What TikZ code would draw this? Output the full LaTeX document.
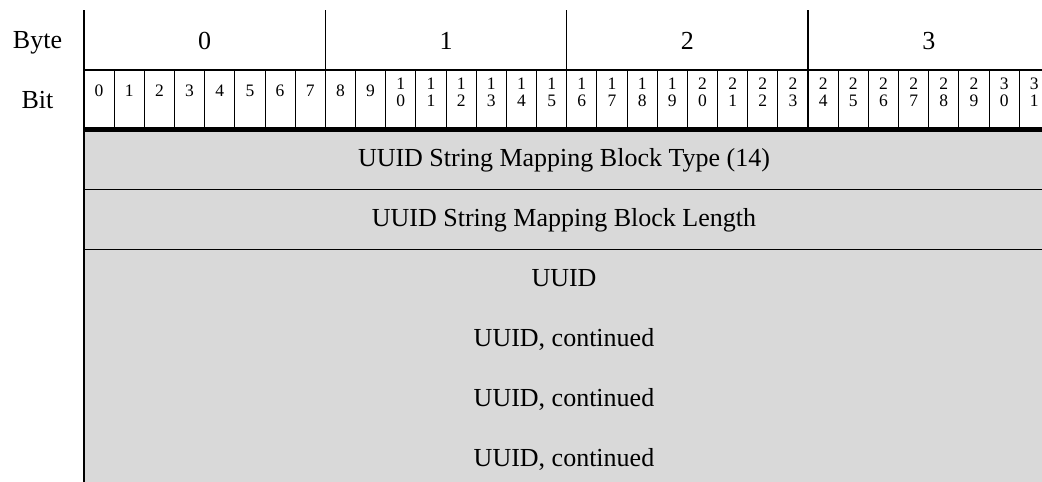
\documentclass[tikz,border=0pt]{standalone}
\usepackage{fontspec}
\setmainfont{Liberation Serif}
\usetikzlibrary{positioning}
\definecolor{fieldgrey}{RGB}{217,217,217}
\tikzstyle{rowlabel} = [draw=none, font=\fontsize{26}{30}\selectfont, text height=18pt, text depth=6pt, text centered]
\tikzstyle{bytenum} = [draw=none, font=\fontsize{26}{30}\selectfont, text height=18pt, text depth=6pt, text centered]
\tikzstyle{bitnum} = [draw=none, font=\fontsize{17.5}{17}\selectfont, align=center, inner sep=0pt]
\tikzstyle{field} = [draw=none, font=\fontsize{26}{30}\selectfont, text height=18pt, text depth=6pt, text centered]
\tikzstyle{rule} = [line width=1pt]
\tikzstyle{byterule} = [line width=1.4pt]
\tikzstyle{headrule} = [line width=5pt]

\begin{document}
\begin{tikzpicture}[x=1pt, y=-1pt, node distance=60pt]
		\useasboundingbox (0,0) rectangle (1042,482);
		\clip (0,0) rectangle (1042,482);
		\fill [fieldgrey] (84,131) rectangle (1060,490);
		
		\node (byte_label) [rowlabel] at (37.5,42) {Byte};
		\node (bit_label) [rowlabel, below of=byte_label] {Bit};
		\foreach \k in {0,...,3}
			\node (byte\k) [bytenum] at ({84+241.36*(\k+0.5)},43) {\k};
		\foreach \b in {0,...,31} {
			\pgfmathtruncatemacro{\hi}{\b/10}
			\pgfmathtruncatemacro{\lo}{mod(\b,10)}
			\ifnum\b<10
				\node (bit\b) [bitnum] at ({84+30.17*(\b+0.5)},91) {\b};
			\else
				\node (bit\b) [bitnum] at ({84+30.17*(\b+0.5)},92.5) {\hi\\\lo};
			\fi
		}
		
		\node (type) [field] at (564,160) {UUID String Mapping Block Type (14)};
		\node (length) [field, below of=type] {UUID String Mapping Block Length};
		\node (uuid) [field, below of=length] {UUID};
		\node (uuid_a) [field, below of=uuid] {UUID, continued};
		\node (uuid_b) [field, below of=uuid_a] {UUID, continued};
		\node (uuid_c) [field, below of=uuid_b] {UUID, continued};
		
		% grid
		\foreach \b in {1,...,31}
			\draw [rule] ({84+30.17*\b},70) -- ({84+30.17*\b},129);
		\foreach \k in {1,2,3}
			\draw [byterule] ({84+241.36*\k},10) -- ({84+241.36*\k},129);
		\draw [byterule] (84,70) -- (1060,70);
		\draw [headrule] (84,129.5) -- (1060,129.5);
		\draw [rule] (84,189) -- (1060,189);
		\draw [rule] (84,249) -- (1060,249);
		\draw [line width=2pt] (83.7,10) -- (83.7,490);
	\end{tikzpicture}
\end{document}
